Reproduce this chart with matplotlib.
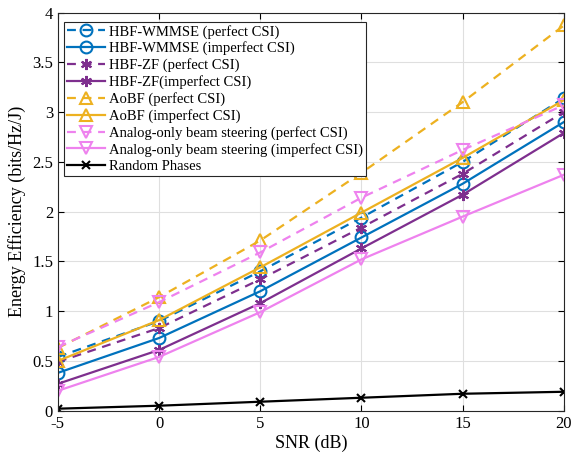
import matplotlib
matplotlib.use("Agg")
import matplotlib.pyplot as plt

plt.rcParams['font.family'] = ['Liberation Serif', 'DejaVu Serif']
plt.rcParams['mathtext.fontset'] = 'stix'

snr = [-5, 0, 5, 10, 15, 20]

wmmse_perfect = [0.54, 0.90, 1.40, 1.94, 2.50, 3.14]
wmmse_imperfect = [0.38, 0.73, 1.20, 1.74, 2.28, 2.90]
zf_perfect = [0.49, 0.83, 1.32, 1.84, 2.38, 3.00]
zf_imperfect = [0.27, 0.61, 1.08, 1.63, 2.17, 2.79]
aobf_perfect = [0.63, 1.14, 1.71, 2.39, 3.10, 3.87]
aobf_imperfect = [0.50, 0.91, 1.44, 1.99, 2.54, 3.12]
analog_perfect = [0.64, 1.09, 1.59, 2.14, 2.62, 3.07]
analog_imperfect = [0.20, 0.54, 0.99, 1.52, 1.95, 2.37]
random_phases = [0.02, 0.05, 0.09, 0.13, 0.17, 0.19]

labels = [
    'HBF-WMMSE (perfect CSI)',
    'HBF-WMMSE (imperfect CSI)',
    'HBF-ZF (perfect CSI)',
    'HBF-ZF(imperfect CSI)',
    'AoBF (perfect CSI)',
    'AoBF (imperfect CSI)',
    'Analog-only beam steering (perfect CSI)',
    'Analog-only beam steering (imperfect CSI)',
    'Random Phases',
]

blue = '#0072BD'
purple = '#7E2F8E'
orange = '#EDB120'
pink = '#EE82EE'

asterisk = (6, 2, 0)
series = [
    (wmmse_perfect, blue, 'o', '--'),
    (wmmse_imperfect, blue, 'o', '-'),
    (zf_perfect, purple, asterisk, '--'),
    (zf_imperfect, purple, asterisk, '-'),
    (aobf_perfect, orange, '^', '--'),
    (aobf_imperfect, orange, '^', '-'),
    (analog_perfect, pink, 'v', '--'),
    (analog_imperfect, pink, 'v', '-'),
    (random_phases, 'black', 'x', '-'),
]

fig = plt.figure(figsize=(5.73, 4.55), dpi=100)
ax = fig.add_axes([0.101, 0.0974, 0.883, 0.875])

for (vals, col, mk, ls), lab in zip(series, labels):
    kw = dict(color=col, marker=mk, linestyle=ls, linewidth=1.6,
              markersize=8.5 if mk != 'x' else 6, label=lab,
              markerfacecolor='none', markeredgewidth=1.5)
    if ls == '--':
        kw['dashes'] = (4, 3)
    if mk == asterisk:
        kw['markersize'] = 8
    ax.plot(snr, vals, **kw)

ax.set_xlim(-5, 20)
ax.set_ylim(0, 4)
ax.set_xticks(snr)
ax.set_xticklabels(['-5', '0', '5', '10', '15', '20'])
ax.set_yticks([0, 0.5, 1, 1.5, 2, 2.5, 3, 3.5, 4])
ax.set_yticklabels(['0', '0.5', '1', '1.5', '2', '2.5', '3', '3.5', '4'])
ax.tick_params(direction='in', top=True, right=True, labelsize=12, length=4, width=0.8)
ax.grid(True, color='#DFDFDF', linewidth=0.8)
ax.set_axisbelow(True)
for s in ax.spines.values():
    s.set_linewidth(0.8)
    s.set_color('#262626')

ax.set_xlabel('SNR (dB)', fontsize=13, labelpad=2)
ax.set_ylabel('Energy Efficiency (bits/Hz/J)', fontsize=13, labelpad=4)

leg = ax.legend(loc='upper left', bbox_to_anchor=(0.012, 0.977), fontsize=10.5,
                frameon=True, fancybox=False, framealpha=1, edgecolor='#262626',
                handlelength=2.6, handletextpad=0.3, labelspacing=0.2,
                borderpad=0.2, borderaxespad=0.0)
leg.get_frame().set_linewidth(0.8)

fig.savefig('out.png', dpi=100)
